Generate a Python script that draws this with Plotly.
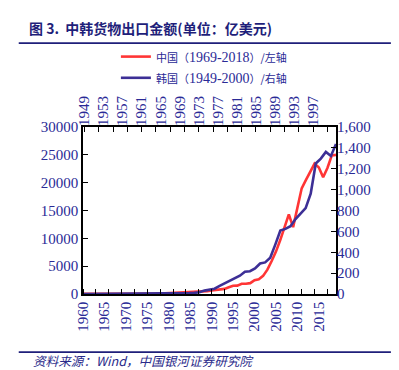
import plotly.graph_objects as go

# China exports (100 million USD), 1960-2019, left axis
cn_years = list(range(1960, 2020))
cn_exports = [18.6, 14.9, 14.9, 16.5, 19.2, 22.3, 23.7, 21.4, 21.0, 22.0,
              22.6, 26.4, 34.4, 58.2, 69.5, 72.6, 68.5, 75.9, 97.5, 136.6,
              181.2, 220.1, 223.2, 222.3, 261.4, 273.5, 309.4, 394.4, 475.2, 525.4,
              620.9, 718.4, 849.4, 917.4, 1210.1, 1487.8, 1510.5, 1827.9, 1837.1, 1949.3,
              2492.0, 2661.0, 3256.0, 4382.0, 5933.0, 7620.0, 9690.0, 12205.0, 14307.0, 12016.0,
              15778.0, 18984.0, 20487.0, 22090.0, 23423.0, 22735.0, 20976.0, 22633.0, 24867.0, 24995.0]

# Korea exports (100 million USD), 1949-1999, right axis
kr_years = list(range(1949, 2000))
kr_exports = [0.1, 0.2, 0.2, 0.3, 0.4, 0.2, 0.2, 0.3, 0.2, 0.2,
              0.2, 0.3, 0.4, 0.5, 0.9, 1.2, 1.8, 2.5, 3.2, 4.6,
              6.2, 8.4, 10.7, 16.2, 32.3, 44.6, 50.8, 77.2, 100.5, 127.1,
              150.6, 175.1, 212.5, 218.5, 244.5, 292.5, 302.8, 347.2, 472.8, 607.0,
              623.8, 650.2, 718.7, 766.3, 822.4, 960.1, 1250.6, 1297.2, 1361.6, 1323.1,
              1436.9]

bottom_ticks = list(range(1960, 2020, 5))
top_ticks = list(range(1949, 2001, 4))
left_ticks = list(range(0, 30001, 5000))
right_ticks = list(range(0, 1601, 200))

NAVY = "#1f1f7a"
TICKC = "#2a2a96"
RED = "#ff3535"
BLUE = "#3d2f96"
SERIF = "Liberation Serif, Noto Sans CJK SC, serif"
CJK = "Noto Sans CJK SC, sans-serif"

def lg(name, years):
    return (f'<span style="font-family:Noto Sans CJK SC;font-size:11px">{name}（</span>'
            f'{years}<span style="font-family:Noto Sans CJK SC;font-size:11px">）/'
            f'{"左轴" if name == "中国" else "右轴"}</span>')

fig = go.Figure()
fig.add_trace(go.Scatter(x=cn_years, y=cn_exports, mode="lines",
                         line=dict(color=RED, width=2.6),
                         name=lg("中国", "1969-2018"), xaxis="x", yaxis="y"))
fig.add_trace(go.Scatter(x=kr_years, y=kr_exports, mode="lines",
                         line=dict(color=BLUE, width=2.6),
                         name=lg("韩国", "1949-2000"), xaxis="x2", yaxis="y2"))
fig.add_trace(go.Scatter(x=[], y=[], showlegend=False, xaxis="x3", yaxis="y"))

fig.update_layout(
    width=399, height=370,
    margin=dict(l=83, r=63, t=127, b=76),
    paper_bgcolor="white", plot_bgcolor="white",
    font=dict(family=SERIF, size=14, color=TICKC),
    xaxis=dict(range=[1960, 2019], tickvals=bottom_ticks, ticks="",
               tickangle=-90, showgrid=False, zeroline=False,
               showline=True, linecolor="black", linewidth=1.5, mirror=True,
               tickfont=dict(family=SERIF, size=15, color=TICKC),
               minor=dict(ticks="inside", tick0=1960, dtick=3, ticklen=5,
                          tickcolor="black", tickwidth=1.3, showgrid=False)),
    xaxis2=dict(range=[1949, 1999], overlaying="x", visible=False),
    xaxis3=dict(range=[1948.7, 2001.8], overlaying="x", side="top", anchor="y",
                tickvals=top_ticks, ticks="", tickangle=-90, showgrid=False,
                zeroline=False, showline=False,
                tickfont=dict(family=SERIF, size=15, color=TICKC),
                minor=dict(ticks="inside", tick0=1949, dtick=3, ticklen=5,
                           tickcolor="black", tickwidth=1.3, showgrid=False)),
    yaxis=dict(range=[0, 30000], tickvals=left_ticks, ticks="inside", ticklen=5,
               tickcolor="black", tickwidth=1.3, showgrid=False, zeroline=False,
               showline=True, linecolor="black", linewidth=1.5, mirror=True,
               tickformat="d",
               tickfont=dict(family=SERIF, size=15, color=TICKC)),
    yaxis2=dict(range=[0, 1600], tickvals=right_ticks, overlaying="y", side="right",
                anchor="x", ticks="inside", ticklen=5, tickcolor="black", tickwidth=1.3,
                showgrid=False, zeroline=False, showline=False, tickformat=",",
                tickfont=dict(family=SERIF, size=15, color=TICKC)),
    legend=dict(x=0.13, y=1.515, xanchor="left", yanchor="top",
                bgcolor="rgba(0,0,0,0)", font=dict(family=SERIF, size=14, color=TICKC),
                tracegroupgap=0, itemwidth=30),
    showlegend=True,
)

fig.add_annotation(text="<b>图 3.  中韩货物出口金额(单位：亿美元)</b>", xref="paper", yref="paper",
                   x=-0.22, y=1.595, xanchor="left", yanchor="middle", showarrow=False,
                   font=dict(family=CJK, size=14, color=NAVY))
fig.add_annotation(text="<i>资料来源：Wind，中国银河证券研究院</i>", xref="paper", yref="paper",
                   x=-0.207, y=-0.40, xanchor="left", yanchor="middle", showarrow=False,
                   font=dict(family=CJK, size=12.6, color="#2a2a8a"))
fig.add_shape(type="line", xref="paper", yref="paper", x0=-0.254, x1=1.217, y0=1.502, y1=1.502,
              line=dict(color=NAVY, width=1.6))
fig.add_shape(type="line", xref="paper", yref="paper", x0=-0.254, x1=1.217, y0=-0.348, y1=-0.348,
              line=dict(color=NAVY, width=1.6))

fig.write_html("out.html", config={"displayModeBar": False},
               post_script="document.body.style.margin='0';document.body.style.padding='0';")
